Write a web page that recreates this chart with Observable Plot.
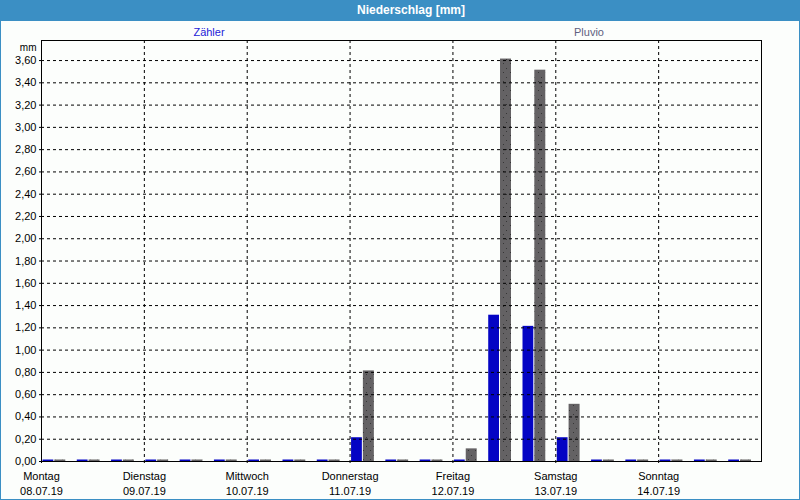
<!DOCTYPE html>
<html>
<head>
<meta charset="utf-8">
<script src="https://cdn.jsdelivr.net/npm/d3@7"></script>
<script src="https://cdn.jsdelivr.net/npm/@observablehq/plot@0.6"></script>
<style>
  html, body { margin: 0; padding: 0; background: #fff; }
  .wrap { position: relative; width: 800px; height: 500px; box-sizing: border-box;
          border-left: 1px solid #3b8fc4; border-right: 1px solid #3b8fc4; border-bottom: 1px solid #3b8fc4;
          background: #fcfefc; font-family: "Liberation Sans", Arial, sans-serif; }
  .title { height: 21px; line-height: 21px; background: #3b8fc4; color: #fff; font-weight: bold;
           font-size: 12px; text-align: center; margin: 0 -1px; padding-left: 22px; }
  .leg { position: absolute; top: 25px; font-size: 11px; line-height: 14px; transform: translateX(-50%); }
  svg { display: block; }
</style>
</head>
<body>
<div class="wrap" id="wrap">
  <div class="title">Niederschlag [mm]</div>
  <div class="leg" style="left:208px;color:#1c1cd8">Zähler</div>
  <div class="leg" style="left:588px;color:#606080">Pluvio</div>
</div>
<script>
// Data
const days = ["Montag", "Dienstag", "Mittwoch", "Donnerstag", "Freitag", "Samstag", "Sonntag"];
const dateLabels = ["08.07.19", "09.07.19", "10.07.19", "11.07.19", "12.07.19", "13.07.19", "14.07.19"];
const slotHours = [0, 8, 16];
// 8-hour sums, Mo 00:00 .. So 16:00 (21 intervals)
const zaehler = [0, 0, 0,  0, 0, 0,  0, 0, 0,  0.2, 0, 0,  0, 1.3, 1.2,  0.2, 0, 0,  0, 0, 0];
const pluvio  = [0, 0, 0,  0, 0, 0,  0, 0, 0,  0.8, 0, 0,  0.1, 3.6, 3.5,  0.5, 0, 0,  0, 0, 0];
const yTicks = [0, 0.2, 0.4, 0.6, 0.8, 1.0, 1.2, 1.4, 1.6, 1.8, 2.0, 2.2, 2.4, 2.6, 2.8, 3.0, 3.2, 3.4, 3.6];
const yMax = 3.78;

const dayStart = i => new Date(Date.UTC(2019, 6, 8 + i));
const dayRows = days.map((d, i) => ({date: dayStart(i), day: d, label: dateLabels[i]}));
const rows = zaehler.map((z, i) => {
  const day = Math.floor(i / slotHours.length);
  const start = new Date(Date.UTC(2019, 6, 8 + day, slotHours[i % slotHours.length]));
  const end = new Date(start.getTime() + 8 * 3600 * 1000);
  return {start, end, z, p: pluvio[i]};
});
const fmt = d => d.toFixed(2).replace(".", ",");

const chart = Plot.plot({
  width: 798,
  height: 478,
  marginLeft: 40,
  marginRight: 38,
  marginTop: 19,
  marginBottom: 38,
  style: {fontFamily: "'Liberation Sans', Arial, sans-serif", fontSize: "11px", background: "transparent", color: "#000"},
  x: {type: "utc", domain: [dayStart(0), dayStart(7)], axis: null},
  y: {domain: [0, yMax], axis: null},
  marks: [
    Plot.rectY(rows, {x1: "start", x2: "end", y: "z", fill: "#0404c4", insetLeft: 1.5, insetRight: 22, insetTop: -1.5}),
    Plot.rectY(rows, {x1: "start", x2: "end", y: "p", fill: "url(#dots)", insetLeft: 13.3, insetRight: 10, insetTop: -1.5}),
    Plot.gridY(yTicks.slice(1), {stroke: "#000", strokeOpacity: 1, strokeDasharray: "3,3"}),
    Plot.gridX(dayRows.slice(1).map(d => d.date), {stroke: "#000", strokeOpacity: 1, strokeDasharray: "3,3"}),
    Plot.axisY({ticks: yTicks, tickSize: 2, tickPadding: 3, tickFormat: fmt, fontSize: 11}),
    Plot.axisX({ticks: dayRows.map(d => d.date), tickSize: 2, tickFormat: () => ""}),
    Plot.frame({stroke: "#000"}),
    Plot.text(dayRows, {x: "date", text: d => d.day + "\n" + d.label, frameAnchor: "bottom", dy: 21.5,
                        lineAnchor: "middle", lineHeight: 1.36, fontSize: 11, fill: "#000"}),
    Plot.text(["mm"], {frameAnchor: "top-left", dx: -5, dy: 7, textAnchor: "end", lineAnchor: "middle", fontSize: 10, fill: "#000"})
  ]
});

// dotted texture for Pluvio bars
const ns = "http://www.w3.org/2000/svg";
const defs = document.createElementNS(ns, "defs");
defs.innerHTML = `<pattern id="dots" width="7" height="9" patternUnits="userSpaceOnUse">
  <rect width="7" height="9" fill="#646264"/>
  <rect x="1" y="2" width="1" height="1" fill="#363636"/>
  <rect x="5" y="6" width="1" height="1" fill="#363636"/>
</pattern>`;
chart.insertBefore(defs, chart.firstChild);
document.getElementById("wrap").appendChild(chart);
</script>
</body>
</html>
